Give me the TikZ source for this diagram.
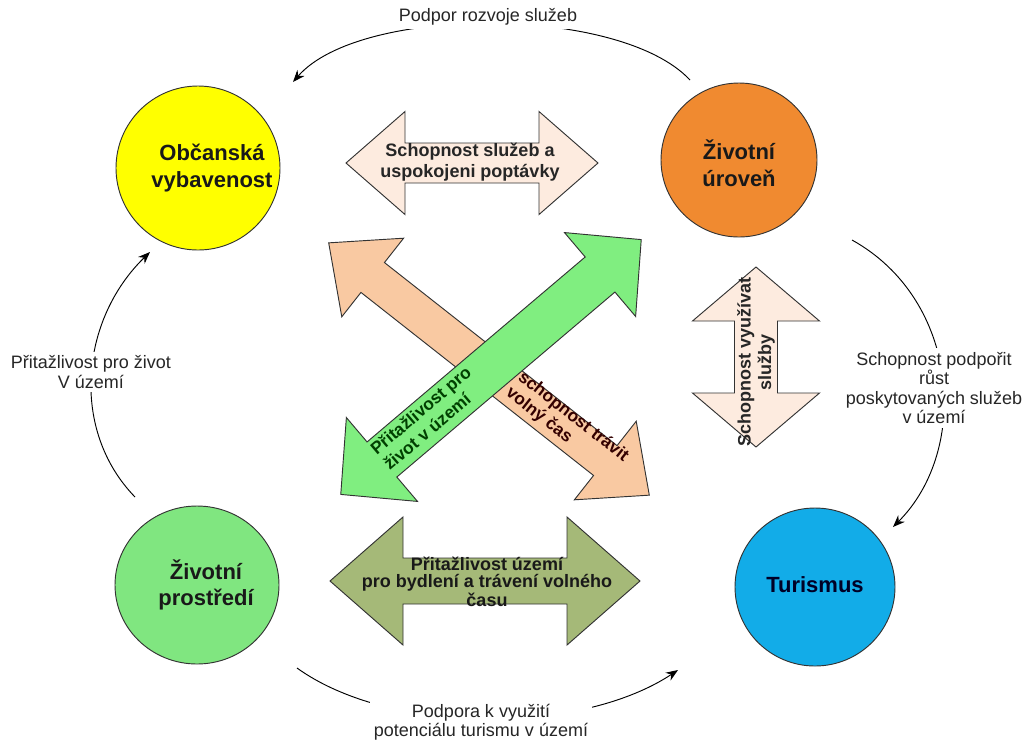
\documentclass[tikz,border=0pt]{standalone}
\usepackage{fontspec}
\setmainfont{Liberation Sans}
\usetikzlibrary{arrows.meta,shapes.geometric}
\definecolor{cyellow}{HTML}{FFFF00}
\definecolor{corange}{HTML}{F08A30}
\definecolor{cgreen}{HTML}{80E680}
\definecolor{cblue}{HTML}{12ACE8}
\definecolor{cpeach}{HTML}{FDEBDF}
\definecolor{cpeachd}{HTML}{F9C9A2}
\definecolor{cgreend}{HTML}{80EE80}
\definecolor{colive}{HTML}{A5B978}
\definecolor{cline}{HTML}{333333}
\newcommand{\dblarrow}[8]{%
  \begin{scope}[shift={(#1,#2)},rotate=#3]
    \draw[bigarrow,fill=#8] ({-#4},0) -- ({-#4+#7},{#6}) -- ({-#4+#7},{#5}) -- ({#4-#7},{#5}) -- ({#4-#7},{#6}) -- ({#4},0)
      -- ({#4-#7},{-#6}) -- ({#4-#7},{-#5}) -- ({-#4+#7},{-#5}) -- ({-#4+#7},{-#6}) -- cycle;
  \end{scope}}
\tikzset{
  circlab/.style={font=\fontsize{16.5}{20}\selectfont\bfseries,align=center,inner sep=0pt,text=black!90},
  bigarrow/.style={draw=cline,line width=0.7pt},
  alabel/.style={font=\fontsize{13.5}{15.5}\selectfont\bfseries,align=center,inner sep=0pt},
  clabel/.style={font=\fontsize{13.5}{14.5}\selectfont,align=center,fill=white,inner sep=3pt,text=black!85},
  conn/.style={line width=0.7pt,-{Stealth[length=9pt,width=7pt]}}
}
\begin{document}
\begin{tikzpicture}[x=0.75pt,y=-0.75pt]
\useasboundingbox (0,0) rectangle (1028,744);
% circles
\draw[draw=cline,line width=0.7pt,fill=cyellow] (198,168) ellipse [x radius=82,y radius=82];
\draw[draw=cline,line width=0.7pt,fill=corange] (739,160) ellipse [x radius=78,y radius=77];
\draw[draw=cline,line width=0.7pt,fill=cgreen] (197,585) ellipse [x radius=82,y radius=79];
\draw[draw=cline,line width=0.7pt,fill=cblue] (815,587) ellipse [x radius=80,y radius=79];
\node[circlab] (obc) at (212,168) {Občanská\\vybavenost};
\node[circlab] (ziv) at (739,163) {Životní\\úroveň};
\node[circlab] (pro) at (206,585) {Životní\\prostředí};
\node[circlab,text=black!85!blue] (tur) at (815,585) {Turismus};
% block arrows
\dblarrow{472}{163}{0}{126}{20}{51.5}{59}{cpeach}
\dblarrow{756}{357}{90}{90}{21.5}{63.5}{54}{cpeach}
\dblarrow{485}{581}{0}{155}{23}{64}{73}{colive}
\dblarrow{489}{369}{-38.2}{204}{19}{50}{56}{cpeachd}
\dblarrow{491}{367}{40.3}{197}{23}{55}{54}{cgreend}
% arrow labels
\node[alabel,text=black!85] (a1) at (470,162) {Schopnost služeb a\\uspokojeni poptávky};
\node[alabel,rotate=90,text=black!85] (a2) at (756,362) {Schopnost využívat\\služby};
\node[alabel,text=black!90,font=\fontsize{13.5}{12.8}\selectfont\bfseries] (a3) at (487,582) {Přitažlivost území\\pro bydlení a trávení volného\\času};
\node[alabel,rotate=-38.2,align=left,text=black!80!red,font=\fontsize{13}{15}\selectfont\bfseries] (a4) at (567,425) {schopnost trávit\\volný čas};
\node[alabel,rotate=40.3,align=left,text=black!75!green,font=\fontsize{13}{15}\selectfont\bfseries] (a5) at (427,418) {Přitažlivost pro\\život v území};
% connector end points
\coordinate (t1) at (690,80);
\coordinate (t2) at (293,82);
\coordinate (r1) at (852,240);
\coordinate (r2) at (893,527);
\coordinate (l1) at (135,497);
\coordinate (l2) at (150,252);
\coordinate (b1) at (297,668);
\coordinate (b2) at (678,670);
\draw[conn] (t1) .. controls (620,5) and (360,5) .. (t2);
\draw[conn] (r1) .. controls (960,300) and (970,450) .. (r2);
\draw[conn] (l1) .. controls (70,430) and (80,320) .. (l2);
\draw[conn] (b1) .. controls (390,735) and (580,735) .. (b2);
\node[clabel] (lt) at (488,17) {Podpor rozvoje služeb};
\node[clabel] (lr) at (934,388) {Schopnost podpořit\\růst\\poskytovaných služeb\\v území};
\node[clabel] (ll) at (91,372) {Přitažlivost pro život\\V území};
\node[clabel] (lb) at (481,722) {Podpora k využití\\potenciálu turismu v území};
\end{tikzpicture}
\end{document}
